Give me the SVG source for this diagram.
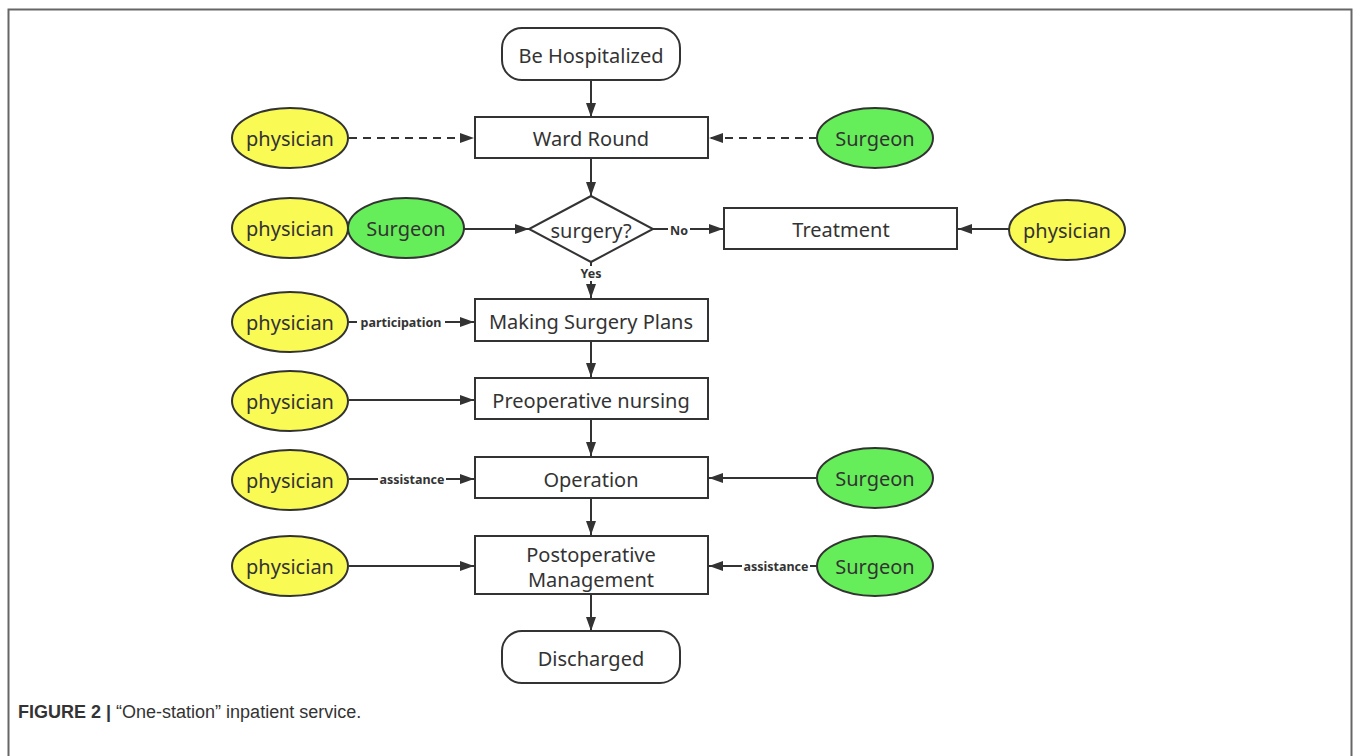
<svg xmlns="http://www.w3.org/2000/svg" width="1360" height="756" viewBox="0 0 1360 756">
<defs>
<style>
.box{fill:#fff;stroke:#333;stroke-width:2}
.yel{fill:#fafa55;stroke:#333;stroke-width:2}
.grn{fill:#66ee5a;stroke:#333;stroke-width:2}
.t{font-family:"Noto Sans","Open Sans",sans-serif;font-size:20px;fill:#333;text-anchor:middle;dominant-baseline:central}
.lbl{font-family:"Noto Sans","Open Sans",sans-serif;font-size:12.5px;font-weight:bold;fill:#333;text-anchor:middle;dominant-baseline:central}
.ln{stroke:#333;stroke-width:2;fill:none;marker-end:url(#ah)}
.dash{stroke-dasharray:8 6}
.bg{fill:#fff}
</style>
<marker id="ah" viewBox="0 0 14 10" refX="14" refY="5" markerWidth="14" markerHeight="10" markerUnits="userSpaceOnUse" orient="auto">
<path d="M0,0 L14,5 L0,10 Z" fill="#333"/>
</marker>
</defs>
<rect width="1360" height="756" fill="#fff"/>
<path d="M8.5,756 V9.5 H1351.5 V756" fill="none" stroke="#666" stroke-width="2"/>

<g id="connectors">
<line class="ln" x1="591" y1="80" x2="591" y2="117"/>
<line class="ln dash" x1="349" y1="138" x2="474" y2="138"/>
<line class="ln dash" x1="817" y1="138" x2="709" y2="138"/>
<line class="ln" x1="591" y1="158" x2="591" y2="196"/>
<line class="ln" x1="464" y1="229" x2="529" y2="229"/>
<line class="ln" x1="653" y1="229" x2="723" y2="229"/>
<line class="ln" x1="1009" y1="229" x2="958" y2="229"/>
<line class="ln" x1="591" y1="262" x2="591" y2="298"/>
<line class="ln" x1="349" y1="322" x2="474" y2="322"/>
<line class="ln" x1="591" y1="341" x2="591" y2="377"/>
<line class="ln" x1="349" y1="400" x2="474" y2="400"/>
<line class="ln" x1="591" y1="419" x2="591" y2="456"/>
<line class="ln" x1="349" y1="479" x2="474" y2="479"/>
<line class="ln" x1="817" y1="478" x2="709" y2="478"/>
<line class="ln" x1="591" y1="498" x2="591" y2="535"/>
<line class="ln" x1="349" y1="566" x2="474" y2="566"/>
<line class="ln" x1="817" y1="566" x2="709" y2="566"/>
<line class="ln" x1="591" y1="594" x2="591" y2="631"/>
<rect class="bg" x="668" y="221" width="22" height="16"/>
<text class="lbl" x="679" y="230">No</text>
<rect class="bg" x="576" y="266" width="30" height="15"/>
<text class="lbl" x="591" y="273">Yes</text>
<rect class="bg" x="357" y="314" width="88" height="16"/>
<text class="lbl" x="401" y="322">participation</text>
<rect class="bg" x="378" y="471" width="68" height="16"/>
<text class="lbl" x="412" y="479">assistance</text>
<rect class="bg" x="742" y="558" width="68" height="16"/>
<text class="lbl" x="776" y="566">assistance</text>
</g>

<g id="be-hospitalized"><rect class="box" x="502" y="28" width="178" height="52" rx="20"/><text class="t" x="591" y="55">Be Hospitalized</text></g>
<g id="ward-round"><rect class="box" x="475" y="117" width="233" height="41"/><text class="t" x="591" y="138">Ward Round</text></g>
<g id="surgery-decision"><polygon class="box" points="591,196 653,229 591,262 529,229"/><text class="t" x="591" y="230">surgery?</text></g>
<g id="treatment"><rect class="box" x="724" y="208" width="233" height="41"/><text class="t" x="841" y="229">Treatment</text></g>
<g id="making-plans"><rect class="box" x="475" y="299" width="233" height="42"/><text class="t" x="591" y="321">Making Surgery Plans</text></g>
<g id="preop"><rect class="box" x="475" y="378" width="233" height="41"/><text class="t" x="591" y="400">Preoperative nursing</text></g>
<g id="operation"><rect class="box" x="475" y="457" width="233" height="41"/><text class="t" x="591" y="479">Operation</text></g>
<g id="postop"><rect class="box" x="475" y="536" width="233" height="58"/><text class="t" x="591" y="554">Postoperative</text><text class="t" x="591" y="579">Management</text></g>
<g id="discharged"><rect class="box" x="502" y="631" width="178" height="52" rx="20"/><text class="t" x="591" y="658">Discharged</text></g>

<g id="physician-1"><ellipse class="yel" cx="290" cy="138" rx="58" ry="30"/><text class="t" x="290" y="138">physician</text></g>
<g id="surgeon-1"><ellipse class="grn" cx="875" cy="138" rx="58" ry="30"/><text class="t" x="875" y="138">Surgeon</text></g>
<g id="physician-2"><ellipse class="yel" cx="290" cy="228" rx="58" ry="30"/><text class="t" x="290" y="228">physician</text></g>
<g id="surgeon-2"><ellipse class="grn" cx="406" cy="228" rx="58" ry="30"/><text class="t" x="406" y="228">Surgeon</text></g>
<g id="physician-3"><ellipse class="yel" cx="1067" cy="230" rx="58" ry="30"/><text class="t" x="1067" y="230">physician</text></g>
<g id="physician-4"><ellipse class="yel" cx="290" cy="322" rx="58" ry="30"/><text class="t" x="290" y="322">physician</text></g>
<g id="physician-5"><ellipse class="yel" cx="290" cy="401" rx="58" ry="30"/><text class="t" x="290" y="401">physician</text></g>
<g id="physician-6"><ellipse class="yel" cx="290" cy="480" rx="58" ry="30"/><text class="t" x="290" y="480">physician</text></g>
<g id="surgeon-3"><ellipse class="grn" cx="875" cy="478" rx="58" ry="30"/><text class="t" x="875" y="478">Surgeon</text></g>
<g id="physician-7"><ellipse class="yel" cx="290" cy="566" rx="58" ry="30"/><text class="t" x="290" y="566">physician</text></g>
<g id="surgeon-4"><ellipse class="grn" cx="875" cy="566" rx="58" ry="30"/><text class="t" x="875" y="566">Surgeon</text></g>

<text x="18" y="718" font-family="'Liberation Sans',Arial,sans-serif" font-size="18" fill="#333"><tspan font-weight="bold">FIGURE 2 |</tspan> “One-station” inpatient service.</text>
</svg>
